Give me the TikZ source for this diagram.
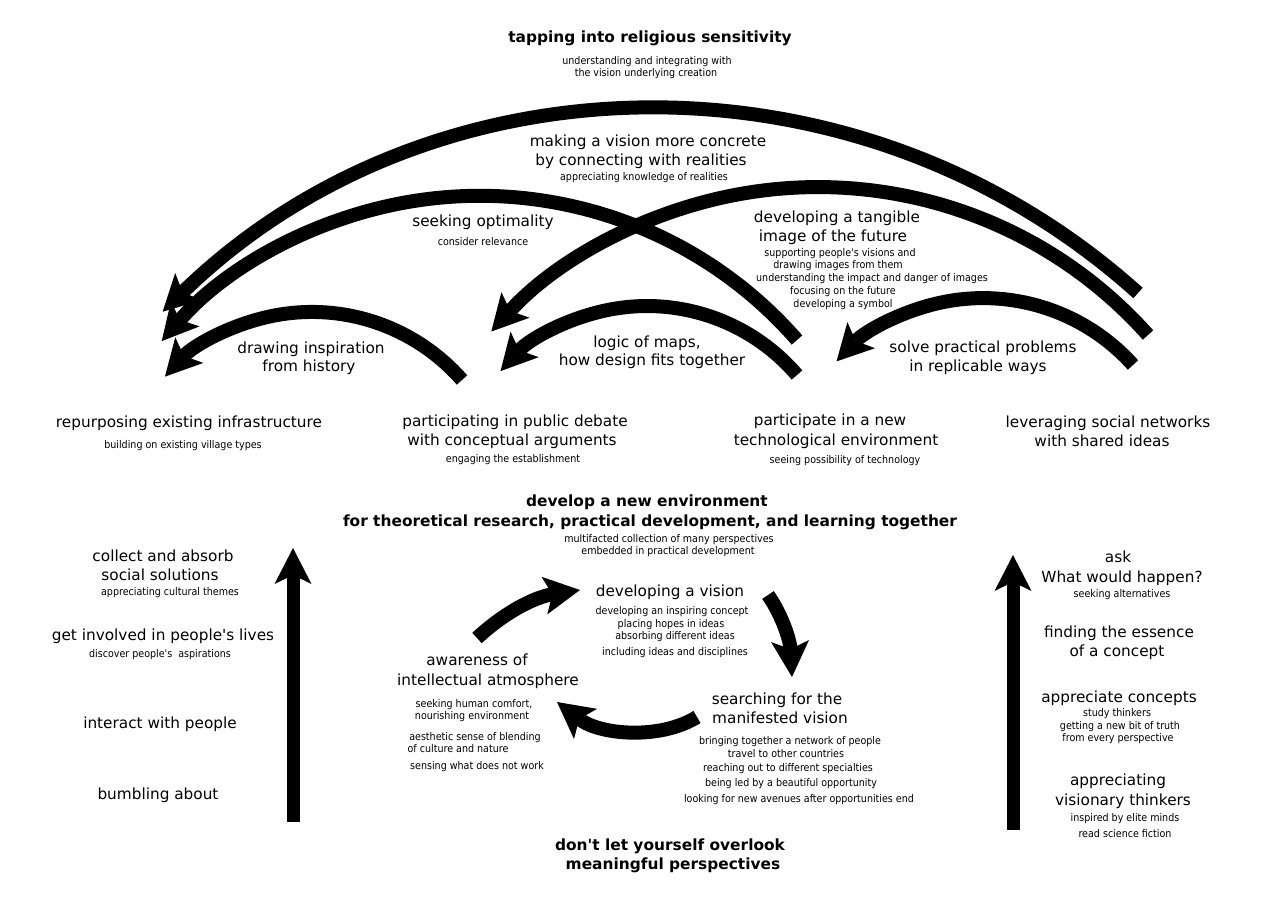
\documentclass[tikz,border=0pt]{standalone}
\usepackage{fontspec}
\setmainfont{DejaVu Sans}[Ligatures=TeXOff]
\newfontfamily\condf{DejaVu Sans}[FakeStretch=0.9,Ligatures=TeXOff]
\usetikzlibrary{arrows.meta}
\begin{document}
\begin{tikzpicture}[x=1pt,y=1pt,yscale=-1,
 big/.style={font=\fontsize{15.3}{18}\selectfont, anchor=base, inner sep=0pt},
 sm/.style={font=\condf\fontsize{10.6}{12}\selectfont, anchor=base, inner sep=0pt},
 bld/.style={font=\bfseries\fontsize{15.4}{18}\selectfont, anchor=base, inner sep=0pt},
 arcarrow/.style={line width=14pt, -{Stealth[length=36pt,width=38pt,inset=8pt,line width=0pt]}},
 cycarrow/.style={line width=14pt, -{Stealth[length=36pt,width=38pt,inset=8pt,line width=0pt]}},
 uparrow/.style={line width=13pt, -{Stealth[length=36pt,width=37pt,inset=9pt,line width=0pt]}}]
\fill[white] (0,0) rectangle (1283,900);
\useasboundingbox (0,0) rectangle (1283,900);

% ---------- top arcs ----------
\coordinate (aA) at (1138,293);
\coordinate (aB) at (1148,335);
\coordinate (aC) at (797,340);
\coordinate (aD) at (462,380);
\coordinate (aE) at (797,375);
\coordinate (aF) at (1133,365);
\draw[arcarrow] (aA) arc[start angle=-48.0, end angle=-134.2, radius=713.9];
\draw[arcarrow] (aB) arc[start angle=-41.7, end angle=-137.7, radius=441.9];
\draw[arcarrow] (aC) arc[start angle=-41.1, end angle=-139.1, radius=420.9];
\draw[arcarrow] (aD) arc[start angle=-41.2, end angle=-137.5, radius=199.4];
\draw[arcarrow] (aE) arc[start angle=-40.6, end angle=-137.9, radius=197.5];
\draw[arcarrow] (aF) arc[start angle=-41.9, end angle=-136.7, radius=201.4];

% ---------- cycle arrows ----------
\coordinate (c1a) at (477,638); \coordinate (c1b) at (580,590);
\coordinate (c2a) at (768,595); \coordinate (c2b) at (792,677);
\coordinate (c3a) at (697,717); \coordinate (c3b) at (557,702);
\draw[cycarrow] (c1a) .. controls (505,612) and (535,597) .. (c1b);
\draw[cycarrow] (c2a) .. controls (782,615) and (790,640) .. (c2b);
\draw[cycarrow] (c3a) .. controls (660,740) and (600,735) .. (c3b);

% ---------- vertical arrows ----------
\coordinate (la0) at (293,822); \coordinate (la1) at (293,548);
\coordinate (ra0) at (1013,830); \coordinate (ra1) at (1013,555);
\draw[uparrow] (la0) -- (la1);
\draw[uparrow] (ra0) -- (ra1);

% ---------- bold titles ----------
\node[bld] (b1) at (650,42) {tapping into religious sensitivity};
\node[bld] (b2) at (647,506) {develop a new environment};
\node[bld] (b3) at (650,526) {for theoretical research, practical development, and learning together};
\node[bld] (b4) at (670,850) {don't let yourself overlook};
\node[bld] (b5) at (673,869) {meaningful perspectives};

% ---------- top texts ----------
\node[sm] (s1) at (647,64) {understanding and integrating with};
\node[sm] (s2) at (646,76) {the vision underlying creation};
\node[big] (t1) at (648,146) {making a vision more concrete};
\node[big] (t2) at (641,165) {by connecting with realities};
\node[sm] (s3) at (644,180) {appreciating knowledge of realities};
\node[big] (t3) at (483,226) {seeking optimality};
\node[sm] (s4) at (483,245) {consider relevance};
\node[big] (t4) at (837,222) {developing a tangible};
\node[big] (t5) at (833,241) {image of the future};
\node[sm] (s5) at (840,256) {supporting people's visions and};
\node[sm] (s6) at (838,268) {drawing images from them};
\node[sm] (s7) at (872,281) {understanding the impact and danger of images};
\node[sm] (s8) at (843,294) {focusing on the future};
\node[sm] (s9) at (843,307) {developing a symbol};
\node[big] (t6) at (311,353) {drawing inspiration};
\node[big] (t7) at (309,371) {from history};
\node[big] (t8) at (647,347) {logic of maps,};
\node[big] (t9) at (652,365) {how design fits together};
\node[big] (t10) at (983,352) {solve practical problems};
\node[big] (t11) at (978,371) {in replicable ways};

% ---------- row of four ----------
\node[big] (t12) at (189,427) {repurposing existing infrastructure};
\node[sm] (s10) at (183,448) {building on existing village types};
\node[big] (t13) at (515,426) {participating in public debate};
\node[big] (t14) at (512,445) {with conceptual arguments};
\node[sm] (s11) at (513,462) {engaging the establishment};
\node[big] (t15) at (830,425) {participate in a new};
\node[big] (t16) at (836,445) {technological environment};
\node[sm] (s12) at (845,463) {seeing possibility of technology};
\node[big] (t17) at (1108,427) {leveraging social networks};
\node[big] (t18) at (1102,446) {with shared ideas};

% ---------- middle ----------
\node[sm] (s13) at (669,542) {multifacted collection of many perspectives};
\node[sm] (s14) at (668,554) {embedded in practical development};

% ---------- left column ----------
\node[big] (t19) at (163,561) {collect and absorb};
\node[big] (t20) at (160,580) {social solutions};
\node[sm] (s15) at (170,595) {appreciating cultural themes};
\node[big] (t21) at (163,640) {get involved in people's lives};
\node[sm] (s16) at (160,657) {discover people's~ aspirations};
\node[big] (t22) at (160,728) {interact with people};
\node[big] (t23) at (158,799) {bumbling about};

% ---------- cycle texts ----------
\node[big] (t24) at (670,596) {developing a vision};
\node[sm] (s17) at (672,614) {developing an inspiring concept};
\node[sm] (s18) at (671,627) {placing hopes in ideas};
\node[sm] (s19) at (675,639) {absorbing different ideas};
\node[sm] (s20) at (675,655) {including ideas and disciplines};
\node[big] (t25) at (477,665) {awareness of};
\node[big] (t26) at (488,685) {intellectual atmosphere};
\node[sm] (s21) at (474,707) {seeking human comfort,};
\node[sm] (s22) at (472,719) {nourishing environment};
\node[sm] (s23) at (475,740) {aesthetic sense of blending};
\node[sm] (s24) at (458,752) {of culture and nature};
\node[sm] (s25) at (477,769) {sensing what does not work};
\node[big] (t27) at (777,704) {searching for the};
\node[big] (t28) at (780,723) {manifested vision};
\node[sm] (s26) at (790,744) {bringing together a network of people};
\node[sm] (s27) at (786,757) {travel to other countries};
\node[sm] (s28) at (788,771) {reaching out to different specialties};
\node[sm] (s29) at (791,786) {being led by a beautiful opportunity};
\node[sm] (s30) at (799,802) {looking for new avenues after opportunities end};

% ---------- right column ----------
\node[big] (t29) at (1118,562) {ask};
\node[big] (t30) at (1122,582) {What would happen?};
\node[sm] (s31) at (1122,597) {seeking alternatives};
\node[big] (t31) at (1119,637) {finding the essence};
\node[big] (t32) at (1117,656) {of a concept};
\node[big] (t33) at (1119,702) {appreciate concepts};
\node[sm] (s32) at (1117,716) {study thinkers};
\node[sm] (s33) at (1120,729) {getting a new bit of truth};
\node[sm] (s34) at (1118,741) {from every perspective};
\node[big] (t34) at (1118,785) {appreciating};
\node[big] (t35) at (1123,805) {visionary thinkers};
\node[sm] (s35) at (1125,821) {inspired by elite minds};
\node[sm] (s36) at (1125,837) {read science fiction};
\end{tikzpicture}
\end{document}
